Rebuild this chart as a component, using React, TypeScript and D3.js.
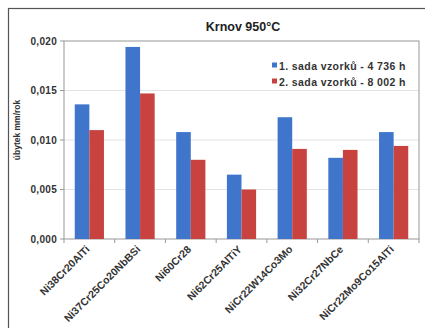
import React from "react";
import * as d3 from "d3";

const categories = [
  "Ni38Cr20AlTi",
  "Ni37Cr25Co20NbBSi",
  "Ni60Cr28",
  "Ni62Cr25AlTiY",
  "NiCr22W14Co3Mo",
  "Ni32Cr27NbCe",
  "NiCr22Mo9Co15AlTi",
];
const series1 = [0.0136, 0.0194, 0.0108, 0.0065, 0.0123, 0.0082, 0.0108];
const series2 = [0.011, 0.0147, 0.008, 0.005, 0.0091, 0.009, 0.0094];
const seriesNames = ["1. sada  vzorků - 4 736 h", "2. sada  vzorků - 8 002 h"];
const yTicks = [0, 0.005, 0.01, 0.015, 0.02];

const W = 425;
const H = 328;
const left = 64;
const right = 419;
const top = 41;
const bottom = 239;
const colors = ["#3f76cc", "#c8433f"];
const FONT = "'Liberation Sans', Arial, sans-serif";

export default function App() {
  const x = d3.scaleBand<string>().domain(categories).range([left, right]).paddingInner(0).paddingOuter(0);
  const y = d3.scaleLinear().domain([0, 0.02]).range([bottom, top]);
  const bw = x.bandwidth();
  const barW = 14.6;
  const fmt = (v: number) => v.toFixed(3).replace(".", ",");
  const data = [series1, series2];

  return (
    <svg width={W} height={H} style={{ position: "absolute", left: 0, top: 0, background: "#fff" }}>
      <rect x={8.5} y={8.5} width={430} height={340} fill="#fff" stroke="#555" strokeWidth={1.2} />
      <text x={243} y={31} textAnchor="middle" fontFamily={FONT} fontWeight="bold" fontSize={12.5} fill="#222">
        Krnov 950°C
      </text>
      {yTicks.slice(1, -1).map((t) => (
        <line key={t} x1={left} x2={right} y1={y(t)} y2={y(t)} stroke="#e3e3e3" strokeWidth={1} />
      ))}
      <rect x={left} y={top} width={right - left} height={bottom - top} fill="none" stroke="#a8a8a8" strokeWidth={1.2} />
      {yTicks.map((t) => (
        <g key={t}>
          <line x1={left - 4} x2={left} y1={y(t)} y2={y(t)} stroke="#999" />
          <text x={left - 7} y={y(t) + 3.5} textAnchor="end" fontFamily={FONT} fontWeight="bold" fontSize={10} letterSpacing={0.3} fill="#333">
            {fmt(t)}
          </text>
        </g>
      ))}
      {categories.map((c, i) => (
        <line key={"t" + i} x1={x(c)!} x2={x(c)!} y1={bottom} y2={bottom + 4} stroke="#999" />
      ))}
      <line x1={right} x2={right} y1={bottom} y2={bottom + 4} stroke="#999" />
      {categories.map((c, i) => {
        const cx = x(c)! + bw / 2;
        return data.map((s, k) => (
          <rect
            key={c + k}
            x={cx - barW + k * barW}
            y={y(s[i])}
            width={barW}
            height={bottom - y(s[i])}
            fill={colors[k]}
          />
        ));
      })}
      {categories.map((c) => {
        const cx = x(c)! + bw / 2 + 1;
        const ty = bottom + 11;
        return (
          <text
            key={"l" + c}
            transform={`translate(${cx},${ty}) rotate(-45)`}
            textAnchor="end"
            fontFamily={FONT}
            fontWeight="bold"
            fontSize={10.5}
            fill="#333"
          >
            {c}
          </text>
        );
      })}
      <text
        transform={`translate(${20},${130}) rotate(-90)`}
        textAnchor="middle"
        fontFamily={FONT}
        fontWeight="bold"
        fontSize={8.5}
        fill="#333"
      >
        úbytek mm/rok
      </text>
      {seriesNames.map((n, k) => (
        <g key={n}>
          <rect x={272} y={62.5 + k * 16} width={5} height={5} fill={colors[k]} />
          <text x={279} y={69.5 + k * 16} fontFamily={FONT} fontWeight="bold" fontSize={10.5} letterSpacing={0.4} fill="#333">
            {n}
          </text>
        </g>
      ))}
    </svg>
  );
}
